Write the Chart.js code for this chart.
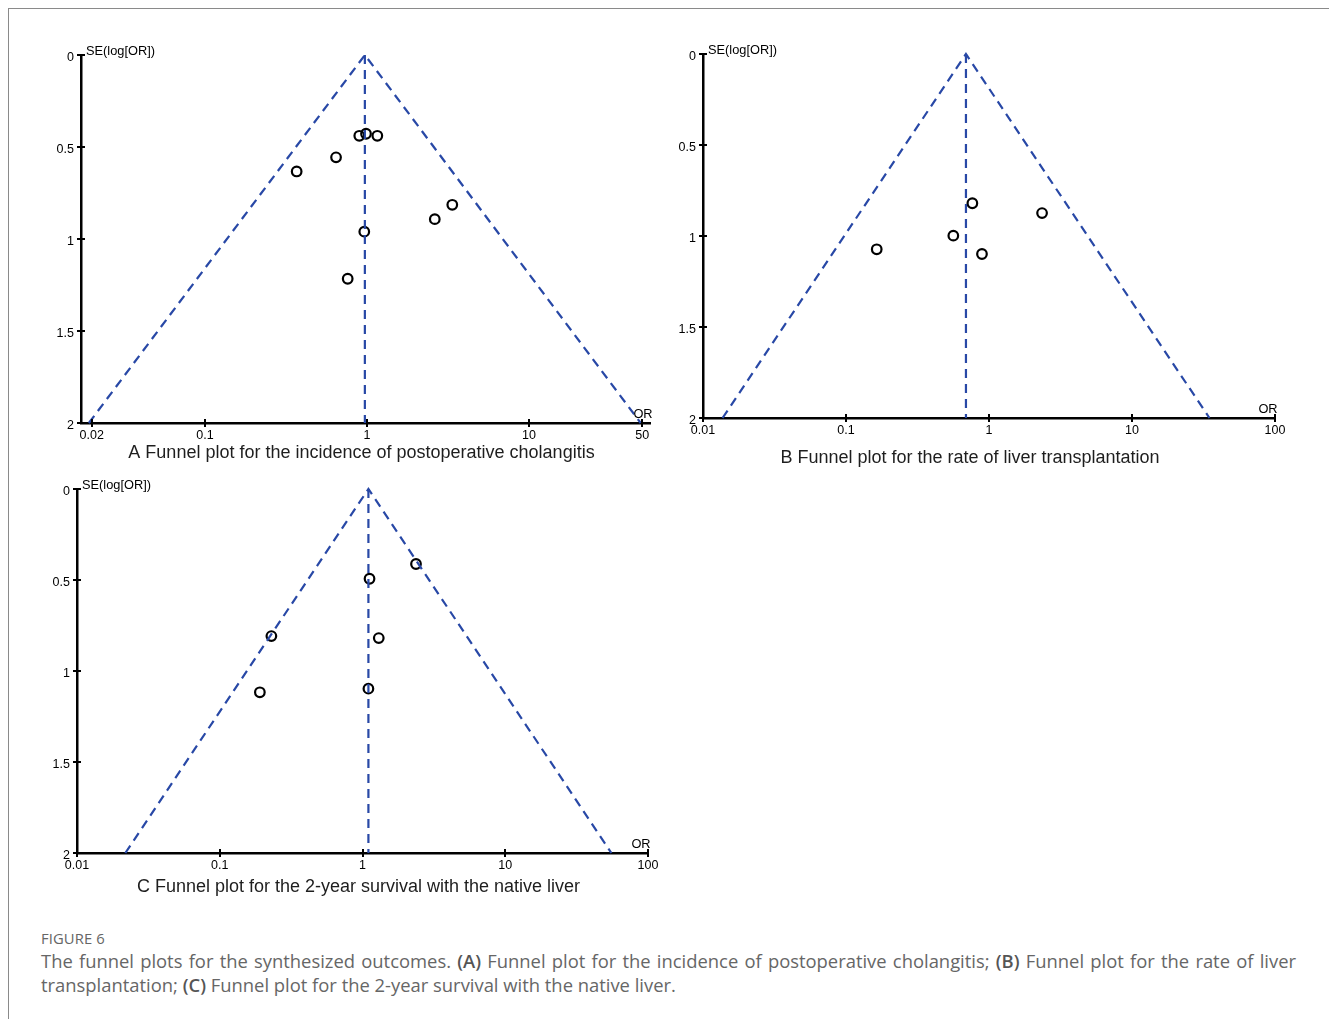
<!DOCTYPE html>
<html>
<head>
<meta charset="utf-8">
<script src="https://cdn.jsdelivr.net/npm/chart.js@4.4.1/dist/chart.umd.min.js"></script>
<style>
  html, body { margin: 0; padding: 0; background: #fff; }
  body { width: 1329px; height: 1019px; position: relative; overflow: hidden; }
  .frame-top { position: absolute; left: 8px; top: 8px; width: 1321px; height: 1px; background: #8a8a8a; }
  .frame-left { position: absolute; left: 8px; top: 8px; width: 1px; height: 1011px; background: #8a8a8a; }
  canvas { position: absolute; }
  .caption { position: absolute; left: 41px; width: 1255px; font-family: "Open Sans", "DejaVu Sans", sans-serif; color: #666; }
  .fig-label { top: 928px; font-size: 14.8px; letter-spacing: 0.1px; }
  .fig-text { top: 949px; font-size: 18.4px; line-height: 24px; text-align: justify; text-align-last: left; }
  .fig-text b { font-weight: 600; color: #555; }
</style>
</head>
<body>
<div class="frame-top"></div>
<div class="frame-left"></div>
<canvas id="panelA"></canvas>
<canvas id="panelB"></canvas>
<canvas id="panelC"></canvas>
<div class="caption fig-label">FIGURE 6</div>
<div class="caption fig-text">The funnel plots for the synthesized outcomes. <b>(A)</b> Funnel plot for the incidence of postoperative cholangitis; <b>(B)</b> Funnel plot for the rate of liver transplantation; <b>(C)</b> Funnel plot for the 2-year survival with the native liver.</div>
<script>
// Study estimates: odds ratio and standard error of log(OR)
const A_OR = [0.896, 0.986, 1.158, 0.644, 0.368, 3.36, 2.62, 0.962, 0.760];
const A_SE = [0.439, 0.428, 0.439, 0.556, 0.633, 0.814, 0.892, 0.960, 1.216];
const B_OR = [0.765, 2.35, 0.563, 0.164, 0.893];
const B_SE = [0.820, 0.874, 0.998, 1.073, 1.099];
const C_OR = [2.37, 1.12, 0.230, 1.30, 0.191, 1.10];
const C_SE = [0.412, 0.493, 0.808, 0.819, 1.117, 1.097];

// Pooled OR and the funnel limits at SE = 2, per panel (A, B, C)
const POOLED_OR = [0.97, 0.69, 1.10];
const FUNNEL_LO = [0.0192, 0.0137, 0.0218];
const FUNNEL_HI = [48.9, 34.8, 55.4];
const SE_MAX = 2;

// Axis ticks
const X_TICKS_A = [0.02, 0.1, 1, 10, 50];
const X_TICKS_BC = [0.01, 0.1, 1, 10, 100];
const Y_TICKS = [0, 0.5, 1, 1.5, 2];

const PANEL_TITLES = [
  'A Funnel plot for the incidence of postoperative cholangitis',
  'B Funnel plot for the rate of liver transplantation',
  'C Funnel plot for the 2-year survival with the native liver'
];

const FUNNEL_BLUE = '#2848a6';
const AXIS_FONT = '"Liberation Sans", Arial, sans-serif';

// Axis decorations: tick marks crossing the axis lines plus axis and panel labels
const axisDecor = {
  id: 'axisDecor',
  afterDraw(chart, args, opts) {
    const { ctx, chartArea: a, scales: { x, y } } = chart;
    ctx.save();
    ctx.strokeStyle = '#000';
    ctx.lineWidth = 2;
    ctx.beginPath();
    y.ticks.forEach(t => {
      const py = Math.round(y.getPixelForValue(t.value));
      ctx.moveTo(a.left - 4, py); ctx.lineTo(a.left + 4, py);
    });
    x.ticks.forEach(t => {
      const px = Math.round(x.getPixelForValue(t.value));
      ctx.moveTo(px, a.bottom - 4); ctx.lineTo(px, a.bottom + 4);
    });
    ctx.stroke();

    ctx.fillStyle = '#000';
    ctx.font = '12.8px ' + AXIS_FONT;
    ctx.textBaseline = 'middle';
    ctx.textAlign = 'left';
    ctx.fillText('SE(log[OR])', a.left + 5, a.top - 4);
    ctx.textAlign = 'center';
    ctx.fillText('OR', a.right - 7, a.bottom - 9);

    ctx.fillStyle = '#1e1e1e';
    ctx.font = '18px ' + AXIS_FONT;
    ctx.fillText(opts.title, (a.left + a.right) / 2 + opts.titleDx, a.bottom + opts.titleDy);
    ctx.restore();
  }
};

const Y_SCALE_W = 40, X_SCALE_H = 30;
const ML = 60, MT = 25, MR = 40, MB = 62;

function makePanel(id, p) {
  const cv = document.getElementById(id);
  const w = (p.area.r - p.area.l) + ML + MR;
  const h = (p.area.b - p.area.t) + MT + MB;
  cv.width = w; cv.height = h;
  cv.style.left = (p.area.l - ML) + 'px';
  cv.style.top = (p.area.t - MT) + 'px';
  cv.style.width = w + 'px'; cv.style.height = h + 'px';

  const points = p.or.map((v, i) => ({ x: v, y: p.se[i] }));
  const dashed = { borderColor: FUNNEL_BLUE, borderWidth: 2.2, borderDash: [9, 6], pointRadius: 0, showLine: true, fill: false };

  new Chart(cv, {
    type: 'scatter',
    data: {
      datasets: [
        Object.assign({ label: 'funnel', data: [
          { x: p.lo, y: SE_MAX }, { x: p.pooled, y: 0 }, { x: p.hi, y: SE_MAX }
        ] }, dashed),
        Object.assign({ label: 'pooled', data: [
          { x: p.pooled, y: 0 }, { x: p.pooled, y: SE_MAX }
        ] }, dashed),
        {
          label: 'studies', data: points,
          pointRadius: 4.8, pointBorderWidth: 2.2,
          pointBorderColor: '#000', pointBackgroundColor: 'rgba(255,255,255,0)',
          showLine: false
        }
      ]
    },
    options: {
      responsive: false,
      animation: false,
      devicePixelRatio: 1,
      clip: false,
      layout: { padding: { left: ML - Y_SCALE_W, top: MT, right: MR, bottom: MB - X_SCALE_H } },
      plugins: {
        legend: { display: false },
        tooltip: { enabled: false },
        axisDecor: { title: p.title, titleDx: p.titleDx, titleDy: p.titleDy }
      },
      scales: {
        x: {
          type: 'logarithmic',
          position: 'bottom',
          min: p.xMin, max: p.xMax,
          bounds: 'data',
          grid: { display: false, drawTicks: false },
          border: { display: true, color: '#000', width: 2.5 },
          afterBuildTicks: s => { s.ticks = p.xTicks.map(v => ({ value: v })); },
          afterFit: s => { s.height = X_SCALE_H; },
          ticks: {
            autoSkip: false, maxRotation: 0, padding: 5, color: '#000',
            font: { family: AXIS_FONT, size: 12.5 },
            callback: v => String(v)
          }
        },
        y: {
          type: 'linear',
          position: 'left',
          reverse: true,
          min: 0, max: SE_MAX,
          grid: { display: false, drawTicks: false },
          border: { display: true, color: '#000', width: 2.5 },
          afterBuildTicks: s => { s.ticks = Y_TICKS.map(v => ({ value: v })); },
          afterFit: s => { s.width = Y_SCALE_W; },
          ticks: {
            autoSkip: false, padding: 7, labelOffset: 3, color: '#000',
            font: { family: AXIS_FONT, size: 12.5 },
            callback: v => String(v)
          }
        }
      }
    },
    plugins: [axisDecor]
  });
}

makePanel('panelA', {
  area: { l: 81, t: 55, r: 650, b: 423 },
  xMin: 0.01717, xMax: 55.8, xTicks: X_TICKS_A,
  or: A_OR, se: A_SE, pooled: POOLED_OR[0], lo: FUNNEL_LO[0], hi: FUNNEL_HI[0],
  title: PANEL_TITLES[0], titleDx: -4, titleDy: 30
});
makePanel('panelB', {
  area: { l: 703, t: 54, r: 1275, b: 418 },
  xMin: 0.01, xMax: 100, xTicks: X_TICKS_BC,
  or: B_OR, se: B_SE, pooled: POOLED_OR[1], lo: FUNNEL_LO[1], hi: FUNNEL_HI[1],
  title: PANEL_TITLES[1], titleDx: -19, titleDy: 40
});
makePanel('panelC', {
  area: { l: 77, t: 489, r: 648, b: 853 },
  xMin: 0.01, xMax: 100, xTicks: X_TICKS_BC,
  or: C_OR, se: C_SE, pooled: POOLED_OR[2], lo: FUNNEL_LO[2], hi: FUNNEL_HI[2],
  title: PANEL_TITLES[2], titleDx: -4, titleDy: 34
});
</script>
</body>
</html>
